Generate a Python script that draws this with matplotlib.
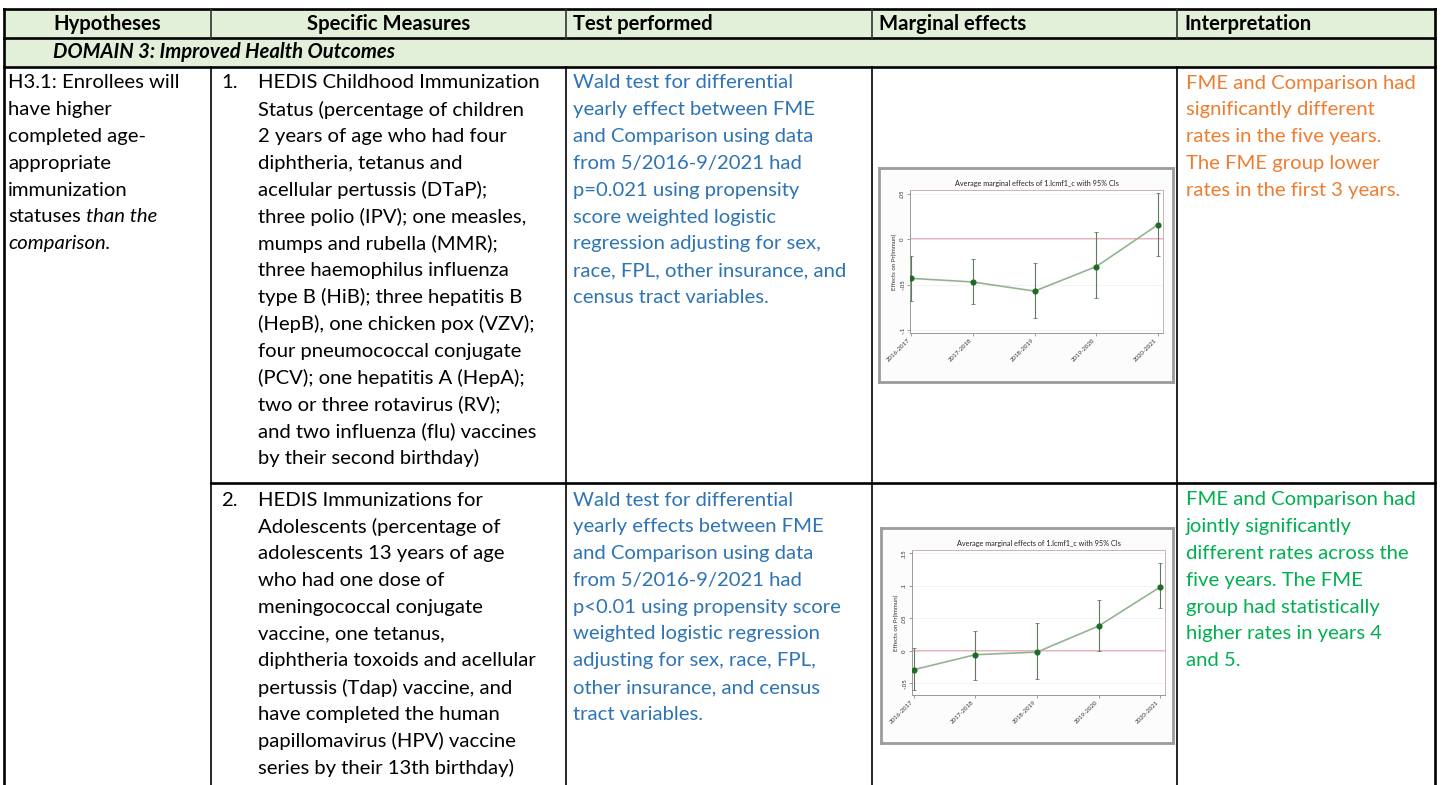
import matplotlib
matplotlib.use("Agg")
import matplotlib.pyplot as plt
from matplotlib.patches import Rectangle

W, H = 1442, 785

# ---- table text ----
headers = ["Hypotheses", "Specific Measures", "Test performed", "Marginal effects", "Interpretation"]
domain = "DOMAIN 3: Improved Health Outcomes"

hyp_lines = ["H3.1: Enrollees will", "have higher", "completed age-", "appropriate",
             "immunization"]
hyp_tail = ("statuses", "than the", "comparison.")

meas1 = ["HEDIS Childhood Immunization", "Status (percentage of children",
         "2 years of age who had four", "diphtheria, tetanus and",
         "acellular pertussis (DTaP);", "three polio (IPV); one measles,",
         "mumps and rubella (MMR);", "three haemophilus influenza",
         "type B (HiB); three hepatitis B", "(HepB), one chicken pox (VZV);",
         "four pneumococcal conjugate", "(PCV); one hepatitis A (HepA);",
         "two or three rotavirus (RV);", "and two influenza (flu) vaccines",
         "by their second birthday)"]
meas2 = ["HEDIS Immunizations for", "Adolescents (percentage of",
         "adolescents 13 years of age", "who had one dose of",
         "meningococcal conjugate", "vaccine, one tetanus,",
         "diphtheria toxoids and acellular", "pertussis (Tdap) vaccine, and",
         "have completed the human", "papillomavirus (HPV) vaccine",
         "series by their 13th birthday)"]

test1 = ["Wald test for differential", "yearly effect between FME",
         "and Comparison using data", "from 5/2016-9/2021 had",
         "p=0.021 using propensity", "score weighted logistic",
         "regression adjusting for sex,", "race, FPL, other insurance, and",
         "census tract variables."]
test2 = ["Wald test for differential", "yearly effects between FME",
         "and Comparison using data", "from 5/2016-9/2021 had",
         "p<0.01 using propensity score", "weighted logistic regression",
         "adjusting for sex, race, FPL,", "other insurance, and census",
         "tract variables."]

interp1 = ["FME and Comparison had", "significantly different",
           "rates in the five years.", "The FME group lower",
           "rates in the first 3 years."]
interp2 = ["FME and Comparison had", "jointly significantly",
           "different rates across the", "five years. The FME",
           "group had statistically", "higher rates in years 4", "and 5."]

# ---- marginal effects ----
years = ["2016-2017", "2017-2018", "2018-2019", "2019-2020", "2020-2021"]
imm_est = [-0.043, -0.047, -0.057, -0.030, 0.016]
imm_lo = [-0.068, -0.071, -0.086, -0.065, -0.018]
imm_hi = [-0.018, -0.022, -0.026, 0.008, 0.051]
ado_est = [-0.029, -0.006, -0.002, 0.038, 0.098]
ado_lo = [-0.060, -0.045, -0.043, 0.000, 0.066]
ado_hi = [0.005, 0.031, 0.042, 0.078, 0.135]

BLUE = "#2E74B5"
ORANGE = "#ED7D31"
GREEN = "#00B050"
FILL = "#E2EFD9"
FS = 14.6
LH = 26.8

plt.rcParams["font.family"] = ["Lato", "DejaVu Sans"]
fig = plt.figure(figsize=(W / 100, H / 100), dpi=100)
ax = fig.add_axes([0, 0, 1, 1])
ax.set_xlim(0, W)
ax.set_ylim(H, 0)
ax.axis("off")

cols = [4, 211, 566, 872, 1177, 1435]
top, head_b, dom_b, row_b = 9, 38, 67, 483

ax.add_patch(Rectangle((cols[0], top), cols[-1] - cols[0], dom_b - top,
                       fc=FILL, ec="none", zorder=0))

thick, thin = 1.9, 1.2
for y in [top, head_b, dom_b]:
    ax.plot([cols[0], cols[-1]], [y, y], color="k", lw=thick)
ax.plot([cols[1], cols[-1]], [row_b, row_b], color="k", lw=thick)
for x in [cols[0], cols[-1]]:
    ax.plot([x, x], [top, H], color="k", lw=thick)
for x in cols[1:-1]:
    ax.plot([x, x], [top, head_b], color="#333333", lw=thin)
    ax.plot([x, x], [dom_b, H], color="k", lw=thin)

# header
hy = (top + head_b) / 2
ax.text((cols[0] + cols[1]) / 2, hy, headers[0], fontsize=FS, weight="bold", ha="center", va="center")
ax.text((cols[1] + cols[2]) / 2, hy, headers[1], fontsize=FS, weight="bold", ha="center", va="center")
for i in range(2, 5):
    ax.text(cols[i] + 7, hy, headers[i], fontsize=FS, weight="bold", ha="left", va="center")
ax.text(53, (head_b + dom_b) / 2, domain, fontsize=FS, weight="bold", style="italic", va="center")

renderer = fig.canvas.get_renderer()


def lines(x, y0, txt, color="k"):
    for i, s in enumerate(txt):
        ax.text(x, y0 + i * LH, s, fontsize=FS, color=color, ha="left", va="center")


y1 = dom_b + 16
y2 = row_b + 17

# hypotheses cell, last lines partly italic
lines(8, y1, hyp_lines)
yy = y1 + len(hyp_lines) * LH
t = ax.text(8, yy, hyp_tail[0], fontsize=FS, va="center")
wpx = t.get_window_extent(renderer).width
ax.text(8 + wpx + 5, yy, hyp_tail[1], fontsize=FS, style="italic", va="center")
ax.text(8, yy + LH, hyp_tail[2], fontsize=FS, style="italic", va="center")

ax.text(221, y1, "1.", fontsize=FS, va="center")
lines(258, y1, meas1)
ax.text(221, y2, "2.", fontsize=FS, va="center")
lines(258, y2, meas2)

lines(cols[2] + 7, y1, test1, BLUE)
lines(cols[2] + 7, y2, test2, BLUE)
lines(cols[4] + 9, y1, interp1, ORANGE)
lines(cols[4] + 9, y2, interp2, GREEN)


def px_rect(x0, y0, x1, y1_):
    return [x0 / W, 1 - y1_ / H, (x1 - x0) / W, (y1_ - y0) / H]


def marg_chart(frame, inner, est, lo, hi, ylim, yticks, ylabels, xlim):
    fa = fig.add_axes(px_rect(*frame))
    fa.set_xticks([])
    fa.set_yticks([])
    fa.set_facecolor("#fcfcfc")
    for sp in fa.spines.values():
        sp.set_color("#9c9c9c")
        sp.set_linewidth(2.0)

    pa = fig.add_axes(px_rect(*inner))
    xs = list(range(len(years)))
    pa.axhline(0, color="#e59aa6", lw=1.1, zorder=1)
    pa.plot(xs, est, color="#93b393", lw=1.2, zorder=2)
    yerr = [[e - l for e, l in zip(est, lo)], [h - e for e, h in zip(est, hi)]]
    pa.errorbar(xs, est, yerr=yerr, fmt="none", ecolor="#5f7a5f", elinewidth=0.8,
                capsize=1.2, capthick=0.6, zorder=3)
    pa.plot(xs, est, "o", color="#1d6b25", ms=3.4, zorder=4)
    pa.set_xlim(*xlim)
    pa.set_ylim(*ylim)
    pa.set_yticks(yticks)
    pa.set_yticklabels(ylabels, rotation=90, va="center", fontsize=4.4, color="#333333")
    pa.set_xticks(xs)
    pa.set_xticklabels(years, rotation=45, ha="right", fontsize=4.4, color="#333333")
    pa.tick_params(length=2, width=0.5, color="#777777", pad=1.5)
    pa.grid(axis="y", color="#eeeeee", lw=0.5)
    for name, sp in pa.spines.items():
        sp.set_color("#c9b3ba" if name in ("top", "right") else "#999999")
        sp.set_linewidth(0.7)
    pa.set_title("Average marginal effects of 1.lcmf1_c with 95% CIs", fontsize=5.2,
                 color="#222222", pad=3)
    pa.set_ylabel("Effects on Pr(Immun)", fontsize=4.4, color="#333333", labelpad=2)


marg_chart((879, 168, 1173, 382), (910, 190, 1163, 333), imm_est, imm_lo, imm_hi,
           (-0.103, 0.054), [-0.1, -0.05, 0, 0.05], ["-.1", "-.05", "0", ".05"], (-0.02, 4.08))
marg_chart((881, 528, 1173, 743), (912, 550, 1165, 695), ado_est, ado_lo, ado_hi,
           (-0.068, 0.155), [-0.05, 0, 0.05, 0.1, 0.15], ["-.05", "0", ".05", ".1", ".15"],
           (-0.03, 4.08))

fig.savefig("out.png", dpi=100)
